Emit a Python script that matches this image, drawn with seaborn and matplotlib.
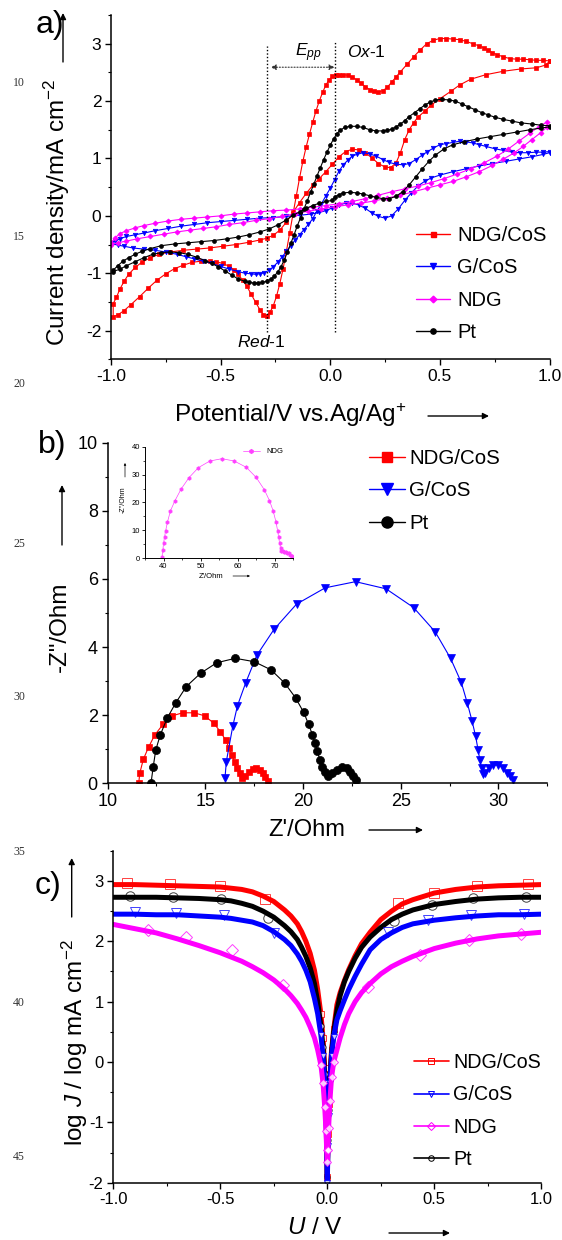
import matplotlib
matplotlib.use("Agg")
import matplotlib.pyplot as plt
import numpy as np
import pandas as pd
import seaborn as sns
from matplotlib.lines import Line2D
from matplotlib.patches import FancyArrowPatch
from matplotlib.ticker import MultipleLocator, FormatStrFormatter

sns.set_theme(style="ticks", rc={"axes.edgecolor": "black", "xtick.color": "black",
                                 "ytick.color": "black", "text.color": "black",
                                 "axes.labelcolor": "black"})
plt.rcParams["font.family"] = ["Liberation Sans", "DejaVu Sans"]
plt.rcParams["mathtext.fontset"] = "custom"
plt.rcParams["mathtext.rm"] = "Liberation Sans"
plt.rcParams["mathtext.it"] = "Liberation Sans:italic"
plt.rcParams["axes.unicode_minus"] = False

RED, BLUE, MAG, BLACK = "#ff0000", "#0000ff", "#ff00ff", "#000000"
labels4 = ["NDG/CoS", "G/CoS", "NDG", "Pt"]

# ---- (a) cyclic voltammograms, (potential / V, current density / mA cm-2) along the scan
cv_ndgcos = [
    (1.00, 2.70), (0.97, 2.71), (0.94, 2.71), (0.91, 2.72), (0.88, 2.73), (0.85, 2.73),
    (0.82, 2.74), (0.79, 2.77), (0.76, 2.81), (0.74, 2.84), (0.72, 2.89), (0.70, 2.93),
    (0.68, 2.96), (0.65, 3.00), (0.62, 3.04), (0.59, 3.07), (0.56, 3.08), (0.53, 3.09),
    (0.50, 3.09), (0.47, 3.06), (0.44, 3.00), (0.41, 2.89), (0.38, 2.77), (0.35, 2.64),
    (0.32, 2.51), (0.30, 2.42), (0.28, 2.33), (0.26, 2.24), (0.24, 2.18), (0.22, 2.16),
    (0.20, 2.17), (0.18, 2.20), (0.16, 2.25), (0.14, 2.31), (0.12, 2.37), (0.10, 2.42),
    (0.08, 2.45), (0.06, 2.46), (0.04, 2.46), (0.025, 2.46), (0.01, 2.43), (-0.005, 2.37),
    (-0.02, 2.28), (-0.035, 2.15), (-0.05, 2.00), (-0.065, 1.83), (-0.08, 1.63),
    (-0.095, 1.42), (-0.11, 1.20), (-0.125, 0.95), (-0.14, 0.66), (-0.155, 0.35),
    (-0.17, 0.03), (-0.185, -0.30), (-0.20, -0.62), (-0.215, -0.92), (-0.23, -1.18),
    (-0.245, -1.40), (-0.26, -1.57), (-0.275, -1.68), (-0.29, -1.75), (-0.305, -1.72),
    (-0.32, -1.64), (-0.34, -1.51), (-0.36, -1.37), (-0.38, -1.23), (-0.40, -1.12),
    (-0.42, -1.02), (-0.44, -0.94), (-0.46, -0.88), (-0.49, -0.83), (-0.52, -0.80),
    (-0.55, -0.79), (-0.59, -0.79), (-0.63, -0.81), (-0.67, -0.86), (-0.71, -0.92),
    (-0.75, -1.01), (-0.79, -1.12), (-0.83, -1.26), (-0.87, -1.41), (-0.91, -1.55),
    (-0.94, -1.65), (-0.97, -1.73), (-0.99, -1.755), (-0.99, -1.53), (-0.975, -1.42),
    (-0.96, -1.28), (-0.94, -1.14), (-0.92, -1.02), (-0.89, -0.90), (-0.86, -0.81),
    (-0.82, -0.73), (-0.78, -0.67), (-0.73, -0.63), (-0.67, -0.60), (-0.61, -0.58),
    (-0.55, -0.56), (-0.49, -0.53), (-0.43, -0.50), (-0.37, -0.46), (-0.32, -0.42),
    (-0.29, -0.39), (-0.26, -0.34), (-0.23, -0.25), (-0.20, -0.11), (-0.17, 0.06),
    (-0.14, 0.23), (-0.11, 0.39), (-0.08, 0.53), (-0.05, 0.65), (-0.02, 0.77),
    (0.01, 0.90), (0.04, 1.03), (0.07, 1.12), (0.10, 1.16), (0.13, 1.15), (0.16, 1.10),
    (0.19, 1.01), (0.22, 0.91), (0.25, 0.85), (0.275, 0.84), (0.30, 0.92), (0.32, 1.10),
    (0.34, 1.33), (0.36, 1.50), (0.38, 1.62), (0.40, 1.72), (0.43, 1.82), (0.46, 1.93),
    (0.50, 2.04), (0.55, 2.17), (0.59, 2.28), (0.64, 2.38), (0.71, 2.46), (0.79, 2.52),
    (0.87, 2.56), (0.94, 2.58), (0.985, 2.63), (1.00, 2.70)]

cv_gcos = [
    (1.00, 1.12), (0.97, 1.11), (0.94, 1.11), (0.90, 1.10), (0.865, 1.10), (0.83, 1.11),
    (0.79, 1.14), (0.75, 1.17), (0.71, 1.21), (0.68, 1.24), (0.65, 1.27), (0.62, 1.29),
    (0.59, 1.30), (0.56, 1.28), (0.53, 1.26), (0.50, 1.24), (0.47, 1.18), (0.44, 1.11),
    (0.42, 1.06), (0.39, 0.98), (0.36, 0.91), (0.33, 0.89), (0.30, 0.90), (0.27, 0.93),
    (0.24, 0.98), (0.21, 1.04), (0.18, 1.08), (0.15, 1.10), (0.12, 1.07), (0.10, 1.04),
    (0.08, 0.97), (0.06, 0.89), (0.04, 0.78), (0.02, 0.63), (0.00, 0.48), (-0.02, 0.35),
    (-0.04, 0.21), (-0.06, 0.09), (-0.08, -0.05), (-0.10, -0.15), (-0.12, -0.24),
    (-0.14, -0.33), (-0.16, -0.42), (-0.18, -0.52), (-0.20, -0.62), (-0.22, -0.72),
    (-0.24, -0.81), (-0.26, -0.89), (-0.28, -0.95), (-0.30, -0.99), (-0.32, -1.01),
    (-0.34, -1.02), (-0.36, -1.01), (-0.39, -1.00), (-0.42, -0.97), (-0.46, -0.93),
    (-0.50, -0.88), (-0.54, -0.83), (-0.58, -0.79), (-0.62, -0.75), (-0.66, -0.71),
    (-0.70, -0.67), (-0.75, -0.63), (-0.80, -0.60), (-0.85, -0.58), (-0.90, -0.56),
    (-0.94, -0.53), (-0.97, -0.51), (-1.00, -0.48), (-0.98, -0.44), (-0.96, -0.40),
    (-0.93, -0.36), (-0.89, -0.33), (-0.85, -0.30), (-0.80, -0.26), (-0.74, -0.22),
    (-0.68, -0.18), (-0.62, -0.15), (-0.56, -0.12), (-0.50, -0.10), (-0.44, -0.08),
    (-0.38, -0.06), (-0.32, -0.04), (-0.26, -0.03), (-0.20, -0.01), (-0.14, 0.01),
    (-0.09, 0.03), (-0.05, 0.06), (-0.02, 0.09), (0.01, 0.14), (0.04, 0.19), (0.07, 0.22),
    (0.10, 0.22), (0.13, 0.19), (0.16, 0.13), (0.19, 0.05), (0.22, -0.01), (0.25, -0.04),
    (0.28, 0.00), (0.31, 0.12), (0.34, 0.27), (0.37, 0.40), (0.40, 0.52), (0.43, 0.60),
    (0.46, 0.66), (0.50, 0.71), (0.56, 0.77), (0.62, 0.82), (0.68, 0.87), (0.74, 0.91),
    (0.80, 0.95), (0.86, 0.99), (0.92, 1.03), (0.97, 1.07), (1.00, 1.10)]

cv_ndg = [
    (-1.00, -0.47), (-0.98, -0.38), (-0.96, -0.31), (-0.93, -0.26), (-0.89, -0.21),
    (-0.85, -0.17), (-0.80, -0.13), (-0.74, -0.09), (-0.68, -0.06), (-0.62, -0.04),
    (-0.56, -0.02), (-0.50, 0.00), (-0.44, 0.03), (-0.38, 0.05), (-0.32, 0.07),
    (-0.26, 0.09), (-0.20, 0.10), (-0.14, 0.12), (-0.08, 0.15), (-0.02, 0.18),
    (0.04, 0.21), (0.10, 0.25), (0.16, 0.30), (0.22, 0.36), (0.28, 0.42), (0.34, 0.47),
    (0.40, 0.52), (0.46, 0.58), (0.52, 0.65), (0.58, 0.73), (0.64, 0.82), (0.70, 0.92),
    (0.76, 1.04), (0.81, 1.16), (0.86, 1.30), (0.91, 1.44), (0.95, 1.55), (0.99, 1.64),
    (0.99, 1.55), (0.96, 1.45), (0.92, 1.33), (0.88, 1.21), (0.84, 1.10), (0.79, 0.99),
    (0.74, 0.88), (0.68, 0.77), (0.62, 0.68), (0.56, 0.60), (0.50, 0.54), (0.44, 0.48),
    (0.38, 0.42), (0.32, 0.36), (0.26, 0.31), (0.20, 0.26), (0.14, 0.22), (0.08, 0.19),
    (0.02, 0.16), (-0.04, 0.12), (-0.10, 0.08), (-0.16, 0.04), (-0.22, -0.01),
    (-0.28, -0.05), (-0.34, -0.08), (-0.40, -0.12), (-0.46, -0.15), (-0.52, -0.19),
    (-0.58, -0.22), (-0.64, -0.25), (-0.70, -0.28), (-0.76, -0.32), (-0.82, -0.36),
    (-0.88, -0.40), (-0.93, -0.44), (-0.97, -0.47), (-1.00, -0.50)]

cv_pt = [
    (1.00, 1.57), (0.96, 1.58), (0.92, 1.60), (0.87, 1.62), (0.83, 1.65), (0.79, 1.68),
    (0.75, 1.72), (0.72, 1.76), (0.69, 1.80), (0.66, 1.85), (0.63, 1.90), (0.60, 1.95),
    (0.57, 2.00), (0.54, 2.02), (0.51, 2.03), (0.48, 2.02), (0.455, 1.98), (0.43, 1.93),
    (0.41, 1.87), (0.385, 1.80), (0.36, 1.73), (0.34, 1.66), (0.32, 1.60), (0.30, 1.55),
    (0.28, 1.51), (0.26, 1.49), (0.24, 1.48), (0.21, 1.48), (0.18, 1.50), (0.15, 1.54),
    (0.12, 1.56), (0.09, 1.56), (0.065, 1.54), (0.045, 1.49), (0.03, 1.43), (0.015, 1.34),
    (0.00, 1.23), (-0.015, 1.11), (-0.03, 0.98), (-0.045, 0.84), (-0.06, 0.70),
    (-0.075, 0.55), (-0.09, 0.41), (-0.105, 0.26), (-0.12, 0.12), (-0.135, -0.03),
    (-0.15, -0.17), (-0.165, -0.33), (-0.18, -0.48), (-0.195, -0.63), (-0.21, -0.77),
    (-0.225, -0.89), (-0.24, -0.98), (-0.255, -1.05), (-0.27, -1.10), (-0.29, -1.14),
    (-0.31, -1.16), (-0.33, -1.17), (-0.35, -1.17), (-0.37, -1.16), (-0.39, -1.14),
    (-0.42, -1.10), (-0.45, -1.03), (-0.48, -0.96), (-0.51, -0.89), (-0.54, -0.83),
    (-0.57, -0.78), (-0.61, -0.72), (-0.65, -0.67), (-0.69, -0.64), (-0.73, -0.63),
    (-0.77, -0.64), (-0.81, -0.67), (-0.85, -0.73), (-0.89, -0.80), (-0.93, -0.87),
    (-0.96, -0.93), (-0.99, -0.97), (-0.99, -0.95), (-0.97, -0.87), (-0.945, -0.79),
    (-0.92, -0.73), (-0.89, -0.67), (-0.86, -0.62), (-0.82, -0.57), (-0.77, -0.52),
    (-0.71, -0.49), (-0.65, -0.47), (-0.59, -0.45), (-0.53, -0.43), (-0.47, -0.40),
    (-0.42, -0.37), (-0.37, -0.33), (-0.32, -0.28), (-0.28, -0.23), (-0.24, -0.16),
    (-0.20, -0.07), (-0.17, 0.01), (-0.14, 0.07), (-0.11, 0.13), (-0.08, 0.18),
    (-0.05, 0.22), (-0.02, 0.25), (0.01, 0.27), (0.02, 0.33), (0.04, 0.37), (0.06, 0.40),
    (0.09, 0.41), (0.12, 0.40), (0.15, 0.38), (0.18, 0.35), (0.21, 0.32), (0.24, 0.30),
    (0.27, 0.30), (0.30, 0.34), (0.33, 0.42), (0.36, 0.54), (0.39, 0.68), (0.42, 0.82),
    (0.45, 0.95), (0.48, 1.06), (0.52, 1.17), (0.56, 1.24), (0.61, 1.29), (0.67, 1.34),
    (0.73, 1.38), (0.79, 1.42), (0.85, 1.46), (0.91, 1.50), (0.96, 1.53), (1.00, 1.55)]

# ---- (b) Nyquist plots, (Z' / Ohm, -Z'' / Ohm)
eis_ndgcos = [
    (11.60, 0.02), (11.65, 0.29), (11.83, 0.70), (12.10, 1.06), (12.42, 1.42), (12.84, 1.73),
    (13.30, 1.98), (13.85, 2.07), (14.43, 2.07), (14.98, 1.98), (15.44, 1.76), (15.77, 1.52),
    (16.04, 1.27), (16.23, 1.03), (16.37, 0.83), (16.50, 0.64), (16.63, 0.44), (16.78, 0.29),
    (16.87, 0.15), (17.05, 0.22), (17.23, 0.34), (17.42, 0.42), (17.60, 0.44), (17.78, 0.39),
    (17.93, 0.29), (18.06, 0.18), (18.20, 0.08)]
eis_gcos = [
    (16.01, 0.15), (16.08, 0.64), (16.41, 1.68), (16.65, 2.28), (17.07, 2.95), (17.64, 3.76),
    (18.52, 4.52), (19.67, 5.26), (21.14, 5.74), (22.69, 5.92), (24.25, 5.71), (25.66, 5.16),
    (26.76, 4.45), (27.55, 3.67), (28.10, 2.96), (28.41, 2.35), (28.65, 1.83), (28.83, 1.39),
    (28.96, 0.98), (29.05, 0.68), (29.14, 0.44), (29.23, 0.27), (29.32, 0.31), (29.51, 0.44),
    (29.74, 0.53), (30.00, 0.54), (30.24, 0.44), (30.42, 0.31), (30.60, 0.20), (30.73, 0.10)]
eis_pt = [
    (12.23, 0.02), (12.34, 0.49), (12.47, 0.98), (12.70, 1.42), (13.05, 1.91), (13.48, 2.35),
    (14.03, 2.84), (14.76, 3.23), (15.59, 3.54), (16.54, 3.67), (17.51, 3.57), (18.37, 3.33),
    (19.07, 2.94), (19.62, 2.51), (20.04, 2.08), (20.29, 1.73), (20.48, 1.43), (20.62, 1.17),
    (20.73, 0.95), (20.86, 0.69), (20.99, 0.49), (21.14, 0.34), (21.26, 0.22), (21.50, 0.29),
    (21.72, 0.39), (21.99, 0.47), (22.23, 0.44), (22.42, 0.34), (22.58, 0.22), (22.69, 0.10)]
eis_ndg = [
    (39.56, 0.36), (39.82, 2.99), (40.00, 5.37), (40.26, 7.52), (40.53, 9.67), (41.06, 13.0),
    (41.85, 16.96), (43.08, 20.66), (44.75, 24.84), (46.86, 28.9), (49.41, 32.5), (52.49, 34.87),
    (55.74, 35.7), (59.08, 34.87), (62.34, 32.6), (64.98, 29.0), (67.18, 24.6), (68.58, 20.66),
    (69.55, 17.07), (70.34, 13.0), (70.78, 9.79), (71.05, 7.52), (71.31, 5.37), (71.57, 3.58),
    (71.75, 2.5), (72.10, 2.75), (72.45, 2.27), (72.90, 2.15), (73.30, 2.0), (73.80, 1.8),
    (74.20, 1.3), (74.60, 0.84), (74.80, 0.24)]

# ---- (c) Tafel polarization, log J vs U
tafel_u = [-1.0, -0.9, -0.8, -0.7, -0.6, -0.5, -0.45, -0.4, -0.35, -0.3, -0.25, -0.2,
           -0.17, -0.14, -0.12, -0.1, -0.08, -0.06, -0.045, -0.03, -0.02, -0.012, -0.006,
           -0.003, 0.0, 0.003, 0.006, 0.012, 0.02, 0.03, 0.045, 0.06, 0.08, 0.1, 0.13, 0.16,
           0.2, 0.25, 0.3, 0.35, 0.4, 0.5, 0.6, 0.7, 0.8, 0.9, 1.0]
logj_ndgcos = [2.94, 2.94, 2.93, 2.92, 2.91, 2.90, 2.88, 2.86, 2.82, 2.75, 2.66, 2.52,
               2.42, 2.29, 2.16, 2.00, 1.80, 1.52, 1.20, 0.80, 0.40, -0.10, -0.70, -1.20,
               -1.90, -1.20, -0.70, -0.20, 0.20, 0.55, 0.95, 1.15, 1.35, 1.53, 1.76, 1.96,
               2.15, 2.36, 2.50, 2.62, 2.69, 2.80, 2.86, 2.90, 2.92, 2.93, 2.94]
logj_gcos = [2.45, 2.45, 2.44, 2.44, 2.42, 2.40, 2.38, 2.35, 2.32, 2.26, 2.16, 2.03,
             1.93, 1.79, 1.67, 1.52, 1.33, 1.05, 0.80, 0.45, 0.10, -0.35, -0.90, -1.40,
             -2.00, -1.40, -0.90, -0.35, 0.10, 0.42, 0.70, 0.85, 1.03, 1.20, 1.42, 1.62,
             1.86, 2.03, 2.14, 2.23, 2.29, 2.35, 2.39, 2.42, 2.44, 2.44, 2.45]
logj_ndg = [2.28, 2.21, 2.14, 2.04, 1.93, 1.81, 1.74, 1.67, 1.58, 1.48, 1.36, 1.21,
            1.10, 0.97, 0.86, 0.74, 0.58, 0.40, 0.20, -0.05, -0.35, -0.75, -1.15, -1.45,
            -1.65, -1.45, -1.10, -0.65, -0.25, 0.00, 0.20, 0.40, 0.62, 0.80, 1.00, 1.15,
            1.30, 1.46, 1.58, 1.67, 1.75, 1.88, 1.97, 2.04, 2.09, 2.12, 2.15]
logj_pt = [2.73, 2.73, 2.73, 2.72, 2.71, 2.69, 2.67, 2.63, 2.58, 2.50, 2.40, 2.26,
           2.16, 2.03, 1.90, 1.75, 1.56, 1.30, 1.00, 0.60, 0.25, -0.20, -0.80, -1.30,
           -1.90, -1.30, -0.80, -0.30, 0.15, 0.50, 0.85, 1.10, 1.33, 1.50, 1.72, 1.90,
           2.07, 2.23, 2.36, 2.45, 2.52, 2.61, 2.66, 2.70, 2.72, 2.73, 2.73]
# highlighted symbols on each polarization curve
mk_ndgcos_u = [-0.935, -0.735, -0.50, -0.29, 0.33, 0.50, 0.70, 0.94]
mk_ndgcos_j = [2.96, 2.95, 2.92, 2.70, 2.63, 2.80, 2.91, 2.95]
mk_gcos_u = [-0.90, -0.705, -0.485, -0.25, 0.285, 0.47, 0.67, 0.92]
mk_gcos_j = [2.48, 2.47, 2.44, 2.13, 2.16, 2.35, 2.43, 2.46]
mk_ndg_u = [-0.84, -0.66, -0.445, -0.205, 0.19, 0.435, 0.66, 0.905]
mk_ndg_j = [2.18, 2.07, 1.86, 1.28, 1.25, 1.77, 2.02, 2.12]
mk_pt_u = [-0.92, -0.72, -0.495, -0.275, 0.31, 0.49, 0.68, 0.93]
mk_pt_j = [2.75, 2.73, 2.70, 2.38, 2.33, 2.60, 2.71, 2.74]

W, H = 562, 1240
fig = plt.figure(figsize=(W / 100, H / 100), dpi=100)


def fx(x):
    return x / W


def fy(y):
    return 1 - y / H


def axes_px(left, top, right, bottom):
    return fig.add_axes([fx(left), fy(bottom), (right - left) / W, (bottom - top) / H])


def trace(ax, pts, color, marker, ms, lw=0.8, mfc=None, mew=0.5, z=2):
    df = pd.DataFrame(pts, columns=["x", "y"])
    sns.lineplot(data=df, x="x", y="y", ax=ax, sort=False, estimator=None, errorbar=None,
                 color=color, linewidth=lw, marker=marker, markersize=ms,
                 markeredgecolor=color, markerfacecolor=color if mfc is None else mfc,
                 markeredgewidth=mew, zorder=z)


def style_axes(ax, size):
    sns.despine(ax=ax)
    for s in ("left", "bottom"):
        ax.spines[s].set_linewidth(1.1)
        ax.spines[s].set_color("black")
    ax.tick_params(which="major", direction="out", length=4, width=1.0, labelsize=size,
                   pad=3, colors="black")
    ax.tick_params(which="minor", direction="out", length=2.5, width=0.8, colors="black")
    ax.set_xlabel("")
    ax.set_ylabel("")


def arrow(x0, y0, x1, y1, lw=1.0, ms=9):
    fig.add_artist(FancyArrowPatch((fx(x0), fy(y0)), (fx(x1), fy(y1)),
                                   transform=fig.transFigure, arrowstyle="-|>",
                                   mutation_scale=ms, lw=lw, color="black",
                                   shrinkA=0, shrinkB=0))


# ------------------------------------------------------------------ (a)
ax_a = axes_px(111, 15, 549.5, 359.3)
trace(ax_a, cv_ndgcos, RED, "s", 2.6)
trace(ax_a, cv_gcos, BLUE, "v", 3.2)
trace(ax_a, cv_ndg, MAG, "D", 2.6)
trace(ax_a, cv_pt, BLACK, "o", 2.8)
ax_a.set_xlim(-1, 1)
ax_a.set_ylim(-2.5, 3.5)
ax_a.xaxis.set_major_locator(MultipleLocator(0.5))
ax_a.xaxis.set_minor_locator(MultipleLocator(0.25))
ax_a.yaxis.set_major_locator(MultipleLocator(1))
ax_a.yaxis.set_minor_locator(MultipleLocator(0.5))
ax_a.xaxis.set_major_formatter(FormatStrFormatter("%.1f"))
style_axes(ax_a, 12.5)

dot = (0, (1, 1.5))
ax_a.plot([-0.288, -0.288], [-2.03, 2.96], ls=dot, color="black", lw=1.0)
ax_a.plot([0.022, 0.022], [-2.03, 3.05], ls=dot, color="black", lw=1.0)
ax_a.annotate("", xy=(-0.272, 2.59), xytext=(0.020, 2.59),
              arrowprops=dict(arrowstyle="<|-|>", color="#333333", lw=0.8, ls=":",
                              mutation_scale=8, shrinkA=0, shrinkB=0))
ax_a.text(-0.10, 2.84, r"$E_{pp}$", ha="center", va="center", fontsize=12.5)
ax_a.text(0.163, 2.85, r"$Ox$-1", ha="center", va="center", fontsize=12.5)
ax_a.text(-0.313, -2.19, r"$Red$-1", ha="center", va="center", fontsize=12.5)

handles_a = [Line2D([], [], color=c, marker=m, ms=s, mec=c, mfc=c, lw=1.0)
             for c, m, s in [(RED, "s", 3.6), (BLUE, "v", 4.2), (MAG, "D", 3.4), (BLACK, "o", 3.8)]]
ax_a.legend(handles_a, labels4, loc="upper left", bbox_to_anchor=(fx(416), fy(226)),
            bbox_transform=fig.transFigure, frameon=False, fontsize=14.5,
            handlelength=1.7, handletextpad=0.35, labelspacing=0.66, borderpad=0,
            borderaxespad=0)

fig.text(fx(50), fy(25), "a)", fontsize=23, ha="center", va="center")
arrow(63, 62, 63, 13)
fig.text(fx(57), fy(212), r"Current density/mA cm$^{-2}$", rotation=90,
         fontsize=17.5, ha="center", va="center")
fig.text(fx(290), fy(415), r"Potential/V vs.Ag/Ag$^{+}$", fontsize=17.5,
         ha="center", va="center")
arrow(428, 416, 489, 416)

# ------------------------------------------------------------------ (b)
ax_b = axes_px(107.5, 442.7, 547.3, 783.3)
trace(ax_b, eis_ndgcos, RED, "s", 5.0, lw=0.8)
trace(ax_b, eis_gcos, BLUE, "v", 6.0, lw=0.8)
trace(ax_b, eis_pt, BLACK, "o", 5.8, lw=0.8)
ax_b.set_xlim(10, 32.5)
ax_b.set_ylim(0, 10)
ax_b.xaxis.set_major_locator(MultipleLocator(5))
ax_b.xaxis.set_minor_locator(MultipleLocator(2.5))
ax_b.yaxis.set_major_locator(MultipleLocator(2))
ax_b.yaxis.set_minor_locator(MultipleLocator(1))
style_axes(ax_b, 13)

handles_b = [Line2D([], [], color=c, marker=m, ms=s, mec=c, mfc=c, lw=1.0)
             for c, m, s in [(RED, "s", 7), (BLUE, "v", 8), (BLACK, "o", 8)]]
ax_b.legend(handles_b, ["NDG/CoS", "G/CoS", "Pt"], loc="upper left",
            bbox_to_anchor=(fx(369), fy(449)), bbox_transform=fig.transFigure,
            frameon=False, fontsize=14.8, handlelength=1.75, handletextpad=0.2,
            labelspacing=0.65, borderpad=0, borderaxespad=0)

fig.text(fx(52), fy(445), "b)", fontsize=23, ha="center", va="center")
arrow(62, 545, 62, 485)
fig.text(fx(60), fy(627), '-Z"/Ohm', rotation=90, fontsize=17.5, ha="center", va="center")
fig.text(fx(307), fy(830), "Z'/Ohm", fontsize=17, ha="center", va="center")
arrow(369, 830, 423, 830)

# inset: NDG alone
ax_in = axes_px(145, 446.7, 293.3, 558.3)
trace(ax_in, eis_ndg, "#ff40ff", "h", 2.6, lw=0.5)
ax_in.set_xlim(35, 75)
ax_in.set_ylim(0, 40)
ax_in.xaxis.set_major_locator(MultipleLocator(10))
ax_in.xaxis.set_minor_locator(MultipleLocator(5))
ax_in.yaxis.set_major_locator(MultipleLocator(10))
ax_in.yaxis.set_minor_locator(MultipleLocator(5))
style_axes(ax_in, 5.5)
for s in ("left", "bottom"):
    ax_in.spines[s].set_linewidth(0.7)
ax_in.tick_params(which="major", length=2, width=0.6, pad=1.5)
ax_in.tick_params(which="minor", length=1.2, width=0.5)
ax_in.patch.set_alpha(0)
ax_in.legend([Line2D([], [], color="#ff40ff", marker="h", ms=2.6, lw=0.5)], ["NDG"],
             loc="upper left", bbox_to_anchor=(fx(243), fy(448)),
             bbox_transform=fig.transFigure, frameon=False, fontsize=5.5,
             handlelength=2.2, handletextpad=0.9, borderpad=0, borderaxespad=0)
fig.text(fx(123), fy(500), '-Z"/Ohm', rotation=90, fontsize=5, ha="center", va="center")
arrow(125, 477, 125, 463, lw=0.5, ms=3)
fig.text(fx(211), fy(576), "Z'/Ohm", fontsize=5.5, ha="center", va="center")
arrow(233, 576, 250, 576, lw=0.5, ms=3)

# ------------------------------------------------------------------ (c)
ax_c = axes_px(113.3, 850.8, 541.3, 1182.7)
tafel = [(logj_ndgcos, mk_ndgcos_u, mk_ndgcos_j, RED, "s", 6.5),
         (logj_pt, mk_pt_u, mk_pt_j, BLACK, "o", 6.8),
         (logj_gcos, mk_gcos_u, mk_gcos_j, BLUE, "v", 7.0),
         (logj_ndg, mk_ndg_u, mk_ndg_j, MAG, "D", 6.2)]
for logj, mu, mj, c, m, s in tafel:
    sns.lineplot(x=tafel_u, y=logj, ax=ax_c, sort=False, estimator=None, errorbar=None,
                 color=c, linewidth=3.6, solid_capstyle="round")
    # small open symbols of the individual points in the steep region near 0 V
    near = [(u, j) for u, j in zip(tafel_u, logj) if abs(u) <= 0.03]
    sns.lineplot(x=[p[0] for p in near], y=[p[1] for p in near], ax=ax_c, sort=False,
                 estimator=None, errorbar=None, color=c, linestyle="none", marker=m,
                 markersize=3.8, markeredgecolor=c, markerfacecolor="white",
                 markeredgewidth=0.7, alpha=0.8)
    sns.lineplot(x=mu, y=mj, ax=ax_c, sort=False, estimator=None, errorbar=None,
                 color=c, linestyle="none", marker=m, markersize=s, markeredgecolor=c,
                 markerfacecolor="none", markeredgewidth=0.7, alpha=0.75)
ax_c.set_xlim(-1, 1)
ax_c.set_ylim(-2, 3.5)
ax_c.xaxis.set_major_locator(MultipleLocator(0.5))
ax_c.xaxis.set_minor_locator(MultipleLocator(0.25))
ax_c.yaxis.set_major_locator(MultipleLocator(1))
ax_c.yaxis.set_minor_locator(MultipleLocator(0.5))
ax_c.xaxis.set_major_formatter(FormatStrFormatter("%.1f"))
style_axes(ax_c, 12)

handles_c = [Line2D([], [], color=c, marker=m, ms=4, mec=c, mfc="none", mew=0.7, lw=1.2)
             for c, m in [(RED, "s"), (BLUE, "v"), (MAG, "D"), (BLACK, "o")]]
ax_c.legend(handles_c, labels4, loc="upper left", bbox_to_anchor=(fx(414), fy(1053)),
            bbox_transform=fig.transFigure, frameon=False, fontsize=14.2,
            handlelength=1.75, handletextpad=0.25, labelspacing=0.68, borderpad=0,
            borderaxespad=0)

fig.text(fx(47.5), fy(886), "c)", fontsize=23, ha="center", va="center")
arrow(71.7, 917, 71.7, 858)
fig.text(fx(75), fy(1043), r"log $J$ / log mA cm$^{-2}$", rotation=90, fontsize=17.5,
         ha="center", va="center")
fig.text(fx(315), fy(1228), r"$U$ / V", fontsize=17.5, ha="center", va="center")
arrow(389, 1233, 450, 1233)

# manuscript line numbers in the margin
for n, y in zip([10, 15, 20, 25, 30, 35, 40, 45], [83, 237, 384, 544, 697, 852, 1003, 1157]):
    fig.text(fx(19), fy(y), str(n), fontsize=8.5, family="Liberation Serif",
             color="#333333", ha="center", va="center")

fig.savefig("out.png", dpi=100)
